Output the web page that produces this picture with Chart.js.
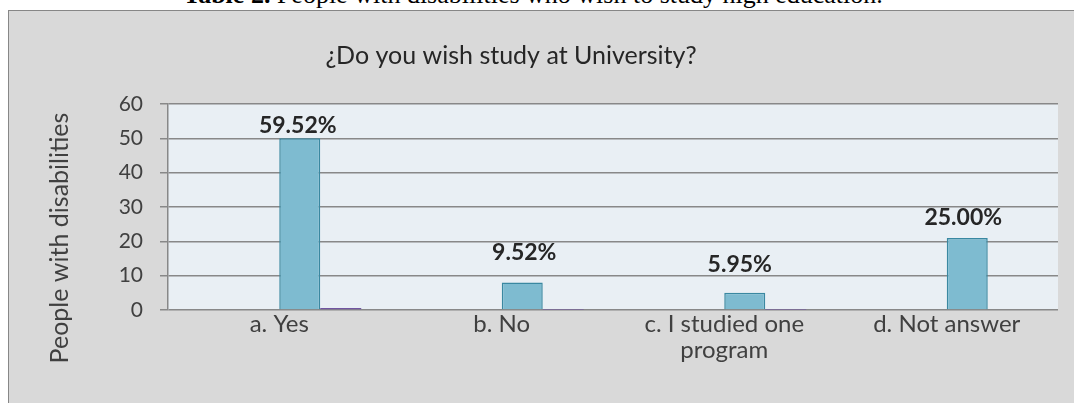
<!DOCTYPE html>
<html>
<head>
<meta charset="utf-8">
<script src="https://cdn.jsdelivr.net/npm/chart.js@4"></script>
<style>
  html, body { margin: 0; padding: 0; background: #fff; overflow: hidden; width: 1074px; height: 403px; }
  #caption {
    position: absolute; left: 0; top: -19px; width: 1066px; text-align: center;
    font-family: "Liberation Serif", serif; font-size: 26px; line-height: 28px; color: #000; white-space: nowrap;
  }
  #box {
    position: absolute; left: 8px; top: 10px; width: 1080px; height: 400px;
    border: 1px solid #878787; background: #d9d9d9;
  }
  #myChart { position: absolute; left: 0; top: 0; }
</style>
</head>
<body>
<div id="caption"><b>Table 2.</b> People with disabilities who wish to study high education.</div>
<div id="box"><canvas id="myChart" width="1066" height="392"></canvas></div>
<script>
var categories = ['a. Yes', 'b. No', ['c. I studied one', 'program'], 'd. Not answer'];
var people = [50, 8, 5, 21];
var shares = [0.5952, 0.0952, 0.0595, 0.25];
var blankSeries = [null, null, null, null];
var yTicks = [0, 10, 20, 30, 40, 50, 60];

var chartTitle = '¿Do you wish study at University?';
var yTitle = 'People with disabilities';

var fontName = 'Lato, "Open Sans", sans-serif';

// the percentage labels were nudged by hand, each a little differently
var labelLift = [13, 30, 28, 20];
var labelShift = [-2, 2, -5, -4];

// plot background, title, axis title and percentage labels
var decorations = {
    id: 'decorations',
    beforeDraw: function (chart) {
        var a = chart.chartArea, c = chart.ctx;
        c.save();
        c.fillStyle = '#e9eff4';
        c.fillRect(a.left, a.top, a.right - a.left, a.bottom - a.top);
        c.restore();
    },
    afterDraw: function (chart) {
        var c = chart.ctx;
        c.save();
        c.fillStyle = '#262626';
        c.textAlign = 'center';
        c.textBaseline = 'middle';
        c.font = '25px ' + fontName;
        c.fillText(chartTitle, 502, 45);

        c.translate(51, 227);
        c.rotate(-Math.PI / 2);
        c.font = '25px ' + fontName;
        c.fillStyle = '#404040';
        c.fillText(yTitle, 0, 0);
        c.restore();
    },
    afterDatasetsDraw: function (chart) {
        var c = chart.ctx;
        var bars = chart.getDatasetMeta(2).data;
        c.save();
        c.font = 'bold 23px ' + fontName;
        c.fillStyle = '#262626';
        c.textAlign = 'center';
        c.textBaseline = 'middle';
        bars.forEach(function (bar, i) {
            c.fillText((shares[i] * 100).toFixed(2) + '%', bar.x + labelShift[i], bar.y - labelLift[i]);
        });
        c.restore();
    }
};

var ctx = document.getElementById('myChart');
var myChart = new Chart(ctx, {
    type: 'bar',
    data: {
        labels: categories,
        datasets: [
            // two unused series keep the visible pair right of each category centre
            { label: 'blank 1', data: blankSeries },
            { label: 'blank 2', data: blankSeries },
            {
                label: 'People',
                data: people,
                backgroundColor: '#7ebbd0',
                borderColor: '#3a88a1',
                borderWidth: 1.5
            },
            {
                label: 'Percentage',
                data: shares,
                backgroundColor: '#7155a0',
                borderWidth: 0
            }
        ]
    },
    plugins: [decorations],
    options: {
        responsive: false,
        animation: false,
        categoryPercentage: 0.737,
        barPercentage: 1,
        layout: { padding: { left: 40, right: 17, top: 93, bottom: 0 } },
        plugins: {
            legend: { display: false },
            title: { display: false },
            tooltip: { enabled: false }
        },
        scales: {
            x: {
                afterFit: function (s) { s.height = 93; },
                grid: { display: false },
                border: { display: false },
                ticks: {
                    padding: -6,
                    color: '#404040',
                    font: { family: fontName, size: 24, lineHeight: 1.05 }
                }
            },
            y: {
                min: 0,
                max: 60,
                afterFit: function (s) { s.width = 119; },
                afterBuildTicks: function (s) {
                    s.ticks = yTicks.map(function (v) { return { value: v }; });
                },
                grid: { color: '#888888', lineWidth: 1.5, tickLength: 8, tickColor: '#888888' },
                border: { color: '#888888', width: 1.5 },
                ticks: {
                    padding: 17,
                    color: '#404040',
                    font: { family: fontName, size: 21 }
                }
            }
        }
    }
});
</script>
</body>
</html>
